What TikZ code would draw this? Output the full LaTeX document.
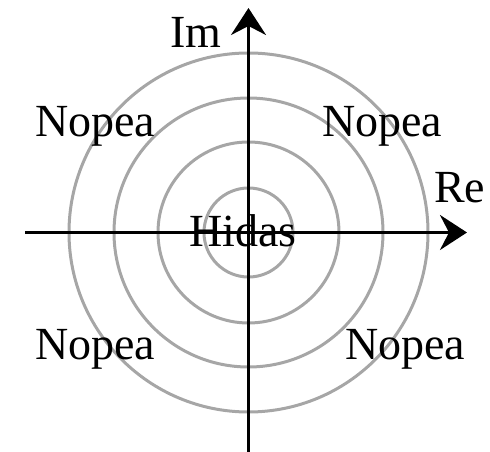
\documentclass[tikz,border=0pt]{standalone}
\usepackage{fontspec}
\setmainfont{Liberation Serif}
\usetikzlibrary{arrows.meta}
\begin{document}
\begin{tikzpicture}[x=1pt,y=1pt,
  ring/.style={draw=black!35, line width=3pt},
  axis/.style={draw=black, line width=3pt, -{Stealth[length=27pt,width=35pt,inset=9pt]}},
  lbl/.style={inner sep=0pt, anchor=base west, font=\fontsize{46}{55}\selectfont}]
\useasboundingbox (0,0) rectangle (490,452);
\coordinate (O) at (248.5,219.5);
\foreach \r in {44.5,90.5,134.5,179.5} \draw[ring] (O) circle (\r);
\coordinate (xs) at (25,219.5);
\coordinate (xe) at (467,219.5);
\coordinate (ys) at (248.5,0);
\coordinate (ye) at (248.5,444);
\draw[axis] (xs) -- (xe);
\draw[axis] (ys) -- (ye);
\node[lbl] (im) at (170,404.3) {Im};
\node[lbl] (re) at (434,249.3) {Re};
\node[lbl] (h) at (189,205.3) {Hidas};
\node[lbl] (n1) at (35,315.3) {Nopea};
\node[lbl] (n2) at (322,315.3) {Nopea};
\node[lbl] (n3) at (35,92) {Nopea};
\node[lbl] (n4) at (345,92) {Nopea};
\end{tikzpicture}
\end{document}
